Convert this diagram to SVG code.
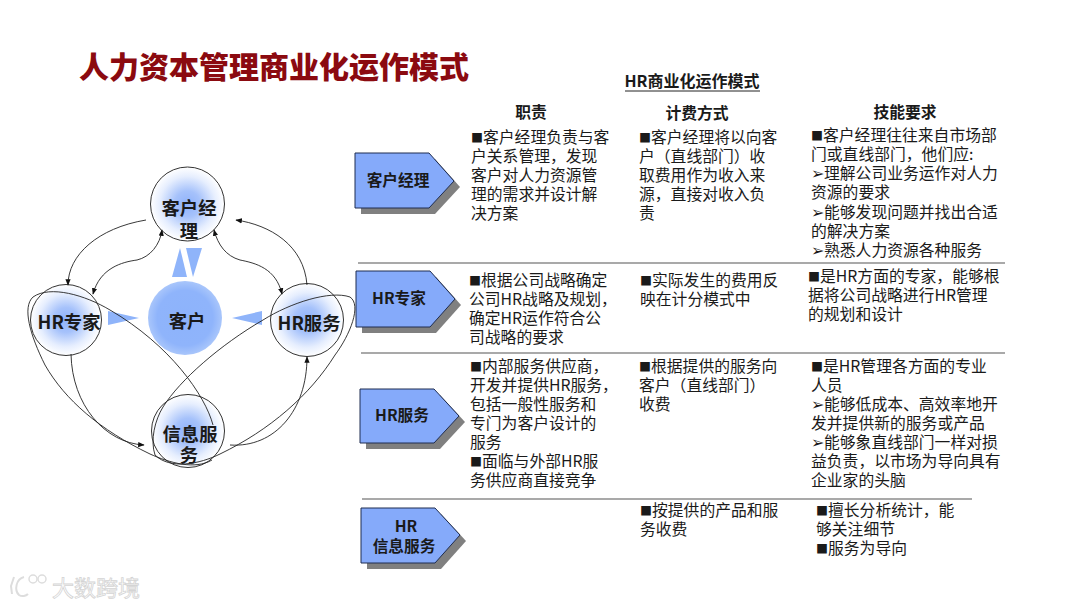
<svg xmlns="http://www.w3.org/2000/svg" width="1080" height="608" viewBox="0 0 1080 608">
<style>
text{font-family:"Noto Sans CJK SC","Liberation Sans",sans-serif;fill:#1a1a1a}
.t{font-size:15.8px}
.b{font-size:12px}
.h{font-size:15.8px;font-weight:700;text-anchor:middle}
.n{font-size:18.3px;font-weight:700;text-anchor:middle}
.p{font-size:15.7px;font-weight:700;text-anchor:middle}
.c{fill:none;stroke:#222;stroke-width:.9}
.o{fill:url(#g);stroke:#333;stroke-width:1}
.tri{fill:#8fb4fa}
.sh{fill:#808080}
.pe{fill:#85aafa;stroke:#1f2d50;stroke-width:1}
.l{stroke:#555;stroke-width:1.2}
</style>
<defs>
<radialGradient id="g"><stop offset="0" stop-color="#8fb2fb"/><stop offset=".35" stop-color="#a6c2fb"/><stop offset=".75" stop-color="#e6eefe"/><stop offset="1" stop-color="#fff"/></radialGradient>
<radialGradient id="g2"><stop offset="0" stop-color="#8db3fb"/><stop offset=".75" stop-color="#8fb4fb"/><stop offset="1" stop-color="#a9c6fb"/></radialGradient>
<marker id="a" viewBox="0 0 10 10" refX="9" refY="5" markerWidth="6.5" markerHeight="6.5" orient="auto-start-reverse" markerUnits="userSpaceOnUse"><path d="M0 1L10 5L0 9Z" fill="#111"/></marker>
</defs>
<rect width="1080" height="608" fill="#fff"/>
<text x="79" y="78" style="font-size:30px;font-weight:900;fill:#8b0a10">人力资本管理商业化运作模式</text>

<g id="tris">
<polygon class="tri" points="172,277 187,277 180,248"/>
<polygon class="tri" points="186,248 202,248 193,277"/>
<polygon class="tri" points="108,311 108,325 139,318"/>
<polygon class="tri" points="262,311 262,325 232,318"/>
</g>
<g id="n-kh"><circle cx="185" cy="318" r="37" fill="url(#g2)"/><text class="n" x="187" y="328">客户</text></g>
<g id="n-mgr"><circle class="o" cx="187.500" cy="204" r="37"/><text class="n" x="189" y="215">客户经</text><text class="n" x="189" y="238">理</text></g>
<g id="n-exp"><circle class="o" cx="66" cy="320" r="35.500"/><text class="n" x="69" y="329">HR专家</text></g>
<g id="n-svc"><circle class="o" cx="307" cy="320" r="36.500"/><text class="n" x="309" y="330">HR服务</text></g>
<g id="n-info"><circle class="o" cx="188" cy="431" r="36.500"/><text class="n" x="190" y="441">信息服</text><text class="n" x="189" y="462">务</text></g>
<g id="connectors">
<path class="c" marker-end="url(#a)" d="M146 220C98 228 68 255 68 285"/>
<path class="c" marker-start="url(#a)" marker-end="url(#a)" d="M93 294C100 268 122 262 137 260C150 257 160 245 162 230"/>
<path class="c" marker-start="url(#a)" marker-end="url(#a)" d="M214 230C218 245 226 256 240 260C255 263 276 268 282 294"/>
<path class="c" marker-end="url(#a)" d="M307 285C304 245 270 225 236 220"/>
<path class="c" marker-end="url(#a)" d="M71 354C72 405 105 443 144 445"/>
<path class="c" marker-end="url(#a)" d="M230 445C275 448 307 410 307 357"/>
<path class="c" d="M213 425C205 395 170 345 110 310C85 295 50 285 33 297C22 307 30 335 45 365C65 400 100 430 150 454C170 463 195 470 212 460"/>
<path class="c" d="M163 407C180 380 220 345 263 320C290 303 330 290 350 297C362 305 350 335 335 355C310 395 270 430 220 454C200 464 170 470 155 455C150 440 155 420 163 407"/>
</g>

<text x="692" y="87" style="font-size:16px;font-weight:700;text-anchor:middle">HR商业化运作模式</text>
<line x1="625" y1="91" x2="760" y2="91" stroke="#222" stroke-width="1"/>
<text class="h" x="531" y="118">职责</text>
<text class="h" x="697" y="119">计费方式</text>
<text class="h" x="905" y="118">技能要求</text>

<g id="r1">
<polygon class="sh" points="361,159 435,159 460,187 435,214 361,214"/>
<polygon class="pe" points="355,153 429,153 454,181 429,208 355,208"/>
<text class="p" x="398" y="186">客户经理</text>
</g>
<g id="r2">
<polygon class="sh" points="362,277 436,277 461,305 436,333 362,333"/>
<polygon class="pe" points="356,271 430,271 455,299 430,327 356,327"/>
<text class="p" x="399" y="304">HR专家</text>
</g>
<g id="r3">
<polygon class="sh" points="366,395 440,395 465,422 440,449 366,449"/>
<polygon class="pe" points="360,389 434,389 459,416 434,443 360,443"/>
<text class="p" x="402" y="421">HR服务</text>
</g>
<g id="r4">
<polygon class="sh" points="367,514 441,514 466,541 441,569 367,569"/>
<polygon class="pe" points="361,508 435,508 460,535 435,563 361,563"/>
<text class="p" x="406" y="532">HR</text><text class="p" x="404" y="552">信息服务</text>
</g>
<line class="l" x1="358" y1="263" x2="1005" y2="263"/>
<line class="l" x1="361" y1="353" x2="1005" y2="353"/>
<line class="l" x1="362" y1="499" x2="972" y2="499"/>

<g id="col1" class="t">
<text x="471" y="143"><tspan class="b">■</tspan>客户经理负责与客</text><text x="471" y="162">户关系管理，发现</text><text x="471" y="181">客户对人力资源管</text><text x="471" y="200">理的需求并设计解</text><text x="471" y="219">决方案</text>
<text x="469" y="286"><tspan class="b">■</tspan>根据公司战略确定</text><text x="469" y="305">公司HR战略及规划，</text><text x="469" y="324">确定HR运作符合公</text><text x="469" y="343">司战略的要求</text>
<text x="470" y="372"><tspan class="b">■</tspan>内部服务供应商，</text><text x="470" y="391">开发并提供HR服务，</text><text x="470" y="410">包括一般性服务和</text><text x="470" y="429">专门为客户设计的</text><text x="470" y="448">服务</text><text x="470" y="467"><tspan class="b">■</tspan>面临与外部HR服</text><text x="470" y="486">务供应商直接竞争</text>
</g>
<g id="col2" class="t">
<text x="639" y="143"><tspan class="b">■</tspan>客户经理将以向客</text><text x="639" y="162">户（直线部门）收</text><text x="639" y="181">取费用作为收入来</text><text x="639" y="200">源，直接对收入负</text><text x="639" y="219">责</text>
<text x="640" y="286"><tspan class="b">■</tspan>实际发生的费用反</text><text x="640" y="305">映在计分模式中</text>
<text x="639" y="372"><tspan class="b">■</tspan>根据提供的服务向</text><text x="639" y="391">客户（直线部门）</text><text x="639" y="410">收费</text>
<text x="640" y="516"><tspan class="b">■</tspan>按提供的产品和服</text><text x="640" y="535">务收费</text>
</g>
<g id="col3" class="t">
<text x="811" y="141"><tspan class="b">■</tspan>客户经理往往来自市场部</text><text x="811" y="160">门或直线部门，他们应:</text><text x="811" y="179">➢理解公司业务运作对人力</text><text x="811" y="198">资源的要求</text><text x="811" y="218">➢能够发现问题并找出合适</text><text x="811" y="237">的解决方案</text><text x="811" y="256">➢熟悉人力资源各种服务</text>
<text x="808" y="282"><tspan class="b">■</tspan>是HR方面的专家，能够根</text><text x="808" y="301">据将公司战略进行HR管理</text><text x="808" y="320">的规划和设计</text>
<text x="811" y="372"><tspan class="b">■</tspan>是HR管理各方面的专业</text><text x="811" y="391">人员</text><text x="811" y="410">➢能够低成本、高效率地开</text><text x="811" y="429">发并提供新的服务或产品</text><text x="811" y="448">➢能够象直线部门一样对损</text><text x="811" y="467">益负责，以市场为导向具有</text><text x="811" y="486">企业家的头脑</text>
<text x="816" y="516"><tspan class="b">■</tspan>擅长分析统计，能</text><text x="816" y="535">够关注细节</text><text x="816" y="554"><tspan class="b">■</tspan>服务为导向</text>
</g>
<g id="wm">
<path d="M14 577L11 586L12 594M24 577C16 579 14 590 19 595C22 597 26 596 28 594" fill="none" stroke="#ddd" stroke-width="2"/>
<circle cx="33" cy="579" r="4" fill="none" stroke="#ddd" stroke-width="1.500"/><circle cx="42" cy="579" r="4" fill="none" stroke="#ddd" stroke-width="1.500"/>
<text x="52" y="596" style="font-size:22px;fill:#fff;stroke:#d4d4d4;stroke-width:.8">大数跨境</text>
</g>
</svg>
